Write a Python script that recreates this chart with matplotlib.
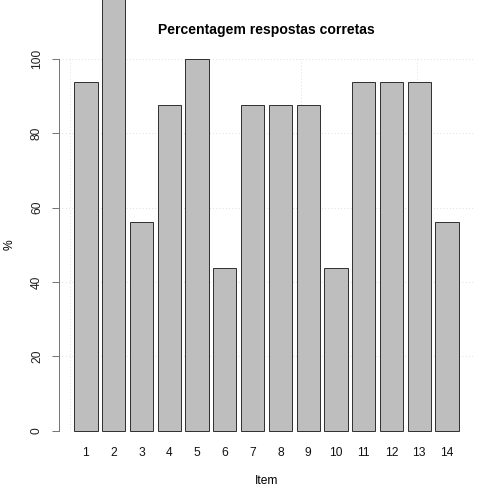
import matplotlib
matplotlib.use("Agg")
import matplotlib.pyplot as plt
import numpy as np

plt.rcParams['font.family'] = ['Liberation Sans', 'DejaVu Sans']

items = [str(i) for i in range(1, 15)]
values = [93.75, 118.75, 56.25, 87.5, 100, 43.75, 87.5, 87.5, 87.5, 43.75, 93.75, 93.75, 93.75, 56.25]
yticks = [0, 20, 40, 60, 80, 100]
title = "Percentagem respostas corretas"
xlabel = "Item"
ylabel = "%"

W = H = 504
fig = plt.figure(figsize=(7, 7), dpi=72)
left, right, top, bottom = 59, 474, 59, 430.6
ax = fig.add_axes([left / W, 1 - bottom / H, (right - left) / W, (bottom - top) / H])

width = 1.0
space = 0.2
centers = np.array([space + width / 2 + i * (width + space) for i in range(len(values))])
xmin, xmax = space, centers[-1] + width / 2
ext = 0.04 * (xmax - xmin)
ax.set_xlim(xmin - ext, xmax + ext)
ax.set_ylim(0, 100)

# grid (R grid(): dotted lightgray)
for gx in [0, 5, 10, 15]:
    ax.axvline(gx, color='#D3D3D3', linestyle=(0, (1, 3)), linewidth=0.8, zorder=1)
for gy in yticks:
    ax.axhline(gy, color='#D3D3D3', linestyle=(0, (1, 3)), linewidth=0.8, zorder=1)

ax.bar(centers, values, width=width, color='#BEBEBE', edgecolor='#333333',
       linewidth=1.0, clip_on=False, zorder=2)

for s in ['top', 'right', 'bottom']:
    ax.spines[s].set_visible(False)
ax.spines['left'].set_color('#777777')
ax.spines['left'].set_linewidth(1.0)

ax.set_xticks(centers)
ax.set_xticklabels(items, fontsize=12)
ax.tick_params(axis='x', length=0, pad=16, labelcolor='#111111')

ax.set_yticks(yticks)
ax.set_yticklabels([str(v) for v in yticks], fontsize=12, rotation=90, va='center')
ax.tick_params(axis='y', length=7, width=1.0, color='#777777', pad=9, labelcolor='#222222')

fig.text((left + right) / 2 / W, 1 - 30 / H, title, fontsize=14, fontweight='bold',
         ha='center', va='center')
fig.text((left + right) / 2 / W, 1 - 481 / H, xlabel, fontsize=12, ha='center', va='center')
fig.text(10 / W, 1 - 245 / H, ylabel, fontsize=12, ha='center', va='center', rotation=90)

fig.savefig("out.png", dpi=72)
